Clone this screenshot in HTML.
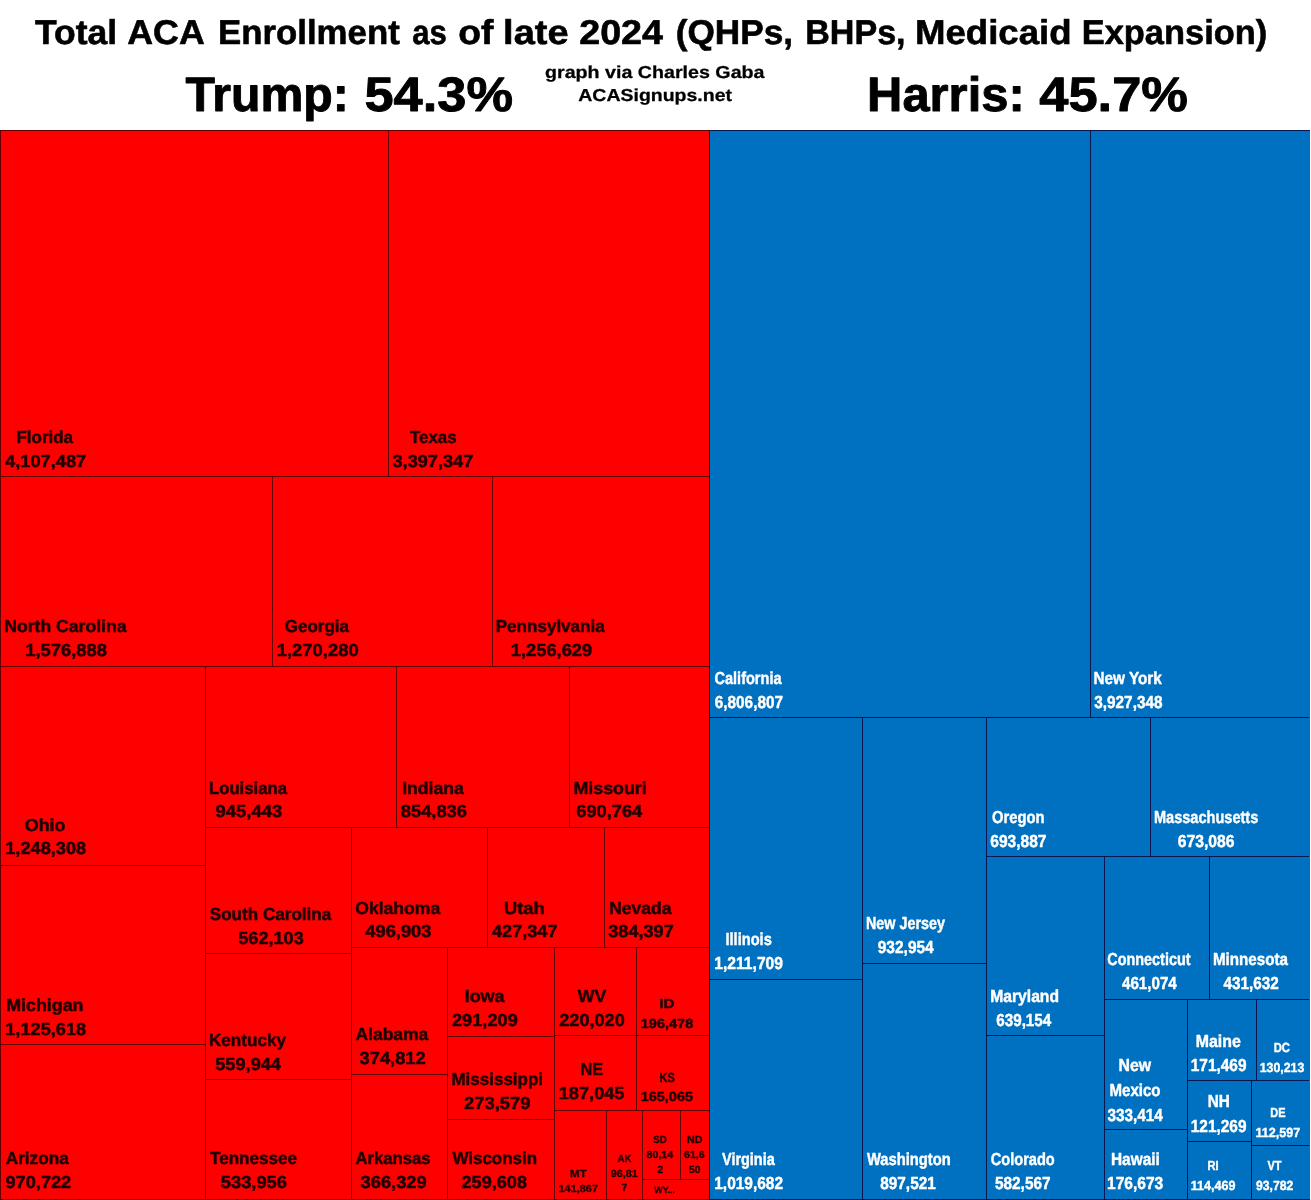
<!DOCTYPE html>
<html lang="en"><head><meta charset="utf-8"><title>Total ACA Enrollment as of late 2024</title>
<style>html,body{margin:0;padding:0;background:#fff}body{width:1311px;height:1200px;overflow:hidden}svg{display:block}text{font-family:"Liberation Sans",Arial,sans-serif;font-weight:bold}</style></head><body>
<svg width="1311" height="1200" viewBox="0 0 1311 1200" text-rendering="geometricPrecision">
<rect x="0" y="0" width="1311" height="1200" fill="#fff"/>
<rect x="0" y="130" width="710" height="1070" fill="#fe0000"/>
<rect x="710" y="130" width="600" height="1070" fill="#0070c0"/>
<g shape-rendering="crispEdges">
<rect x="0" y="130" width="709" height="1" fill="#650000"/>
<rect x="710" y="130" width="600" height="1" fill="#06154f"/>
<rect x="0" y="1199" width="709" height="1" fill="#650000"/>
<rect x="710" y="1199" width="600" height="1" fill="#06154f"/>
<rect x="0" y="476" width="709" height="1" fill="#650000"/>
<rect x="0" y="666" width="709" height="1" fill="#650000"/>
<rect x="0" y="865" width="205" height="1" fill="#650000"/>
<rect x="0" y="1044" width="205" height="1" fill="#650000"/>
<rect x="205" y="827" width="504" height="1" fill="#650000"/>
<rect x="205" y="953" width="146" height="1" fill="#650000"/>
<rect x="205" y="1079" width="146" height="1" fill="#650000"/>
<rect x="351" y="947" width="358" height="1" fill="#650000"/>
<rect x="351" y="1074" width="96" height="1" fill="#650000"/>
<rect x="447" y="1036" width="107" height="1" fill="#650000"/>
<rect x="447" y="1119" width="107" height="1" fill="#650000"/>
<rect x="554" y="1035" width="155" height="1" fill="#650000"/>
<rect x="554" y="1110" width="155" height="1" fill="#650000"/>
<rect x="642" y="1179" width="67" height="1" fill="#650000"/>
<rect x="710" y="717" width="600" height="1" fill="#06154f"/>
<rect x="710" y="979" width="152" height="1" fill="#06154f"/>
<rect x="862" y="963" width="124" height="1" fill="#06154f"/>
<rect x="986" y="856" width="324" height="1" fill="#06154f"/>
<rect x="986" y="1035" width="118" height="1" fill="#06154f"/>
<rect x="1104" y="999" width="206" height="1" fill="#06154f"/>
<rect x="1104" y="1129" width="83" height="1" fill="#06154f"/>
<rect x="1187" y="1080" width="123" height="1" fill="#06154f"/>
<rect x="1187" y="1141" width="64" height="1" fill="#06154f"/>
<rect x="1251" y="1145" width="59" height="1" fill="#06154f"/>
<rect x="0" y="130" width="1" height="1070" fill="#650000"/>
<rect x="388" y="130" width="1" height="346" fill="#650000"/>
<rect x="709" y="130" width="1" height="1070" fill="#45081c"/>
<rect x="272" y="476" width="1" height="190" fill="#650000"/>
<rect x="492" y="476" width="1" height="190" fill="#650000"/>
<rect x="205" y="666" width="1" height="534" fill="#650000"/>
<rect x="396" y="666" width="1" height="161" fill="#650000"/>
<rect x="569" y="666" width="1" height="161" fill="#650000"/>
<rect x="351" y="827" width="1" height="373" fill="#650000"/>
<rect x="487" y="827" width="1" height="120" fill="#650000"/>
<rect x="604" y="827" width="1" height="120" fill="#650000"/>
<rect x="447" y="947" width="1" height="253" fill="#650000"/>
<rect x="554" y="947" width="1" height="253" fill="#650000"/>
<rect x="636" y="947" width="1" height="163" fill="#650000"/>
<rect x="606" y="1110" width="1" height="90" fill="#650000"/>
<rect x="642" y="1110" width="1" height="90" fill="#650000"/>
<rect x="680" y="1110" width="1" height="69" fill="#650000"/>
<rect x="1090" y="130" width="1" height="587" fill="#06154f"/>
<rect x="862" y="717" width="1" height="483" fill="#06154f"/>
<rect x="986" y="717" width="1" height="483" fill="#06154f"/>
<rect x="1150" y="717" width="1" height="139" fill="#06154f"/>
<rect x="1104" y="856" width="1" height="344" fill="#06154f"/>
<rect x="1209" y="856" width="1" height="143" fill="#06154f"/>
<rect x="1187" y="999" width="1" height="201" fill="#06154f"/>
<rect x="1256" y="999" width="1" height="81" fill="#06154f"/>
<rect x="1251" y="1080" width="1" height="120" fill="#06154f"/>
<rect x="1309" y="131" width="1" height="1068" fill="#1d64a8"/>
</g>
<text x="35.00" y="43.5" font-size="34.4" fill="#000" stroke="#000" stroke-width="0.6" stroke-linejoin="round" textLength="82.07" lengthAdjust="spacingAndGlyphs">Total</text>
<text x="127.24" y="43.5" font-size="34.4" fill="#000" stroke="#000" stroke-width="0.6" stroke-linejoin="round" textLength="77.52" lengthAdjust="spacingAndGlyphs">ACA</text>
<text x="217.97" y="43.5" font-size="34.4" fill="#000" stroke="#000" stroke-width="0.6" stroke-linejoin="round" textLength="181.78" lengthAdjust="spacingAndGlyphs">Enrollment</text>
<text x="412.22" y="43.5" font-size="34.4" fill="#000" stroke="#000" stroke-width="0.6" stroke-linejoin="round" textLength="34.59" lengthAdjust="spacingAndGlyphs">as</text>
<text x="458.22" y="43.5" font-size="34.4" fill="#000" stroke="#000" stroke-width="0.6" stroke-linejoin="round" textLength="35.27" lengthAdjust="spacingAndGlyphs">of</text>
<text x="503.13" y="43.5" font-size="34.4" fill="#000" stroke="#000" stroke-width="0.6" stroke-linejoin="round" textLength="65.43" lengthAdjust="spacingAndGlyphs">late</text>
<text x="579.24" y="43.5" font-size="34.4" fill="#000" stroke="#000" stroke-width="0.6" stroke-linejoin="round" textLength="83.76" lengthAdjust="spacingAndGlyphs">2024</text>
<text x="675.71" y="43.5" font-size="34.4" fill="#000" stroke="#000" stroke-width="0.6" stroke-linejoin="round" textLength="117.36" lengthAdjust="spacingAndGlyphs">(QHPs,</text>
<text x="805.18" y="43.5" font-size="34.4" fill="#000" stroke="#000" stroke-width="0.6" stroke-linejoin="round" textLength="100.40" lengthAdjust="spacingAndGlyphs">BHPs,</text>
<text x="914.94" y="43.5" font-size="34.4" fill="#000" stroke="#000" stroke-width="0.6" stroke-linejoin="round" textLength="156.61" lengthAdjust="spacingAndGlyphs">Medicaid</text>
<text x="1081.71" y="43.5" font-size="34.4" fill="#000" stroke="#000" stroke-width="0.6" stroke-linejoin="round" textLength="185.56" lengthAdjust="spacingAndGlyphs">Expansion)</text>
<text x="185.50" y="111.4" font-size="48.4" fill="#000" stroke="#000" stroke-width="0.9" stroke-linejoin="round" textLength="163.35" lengthAdjust="spacingAndGlyphs">Trump:</text>
<text x="364.48" y="111.4" font-size="48.4" fill="#000" stroke="#000" stroke-width="0.9" stroke-linejoin="round" textLength="148.53" lengthAdjust="spacingAndGlyphs">54.3%</text>
<text x="867.12" y="111.4" font-size="48.4" fill="#000" stroke="#000" stroke-width="0.9" stroke-linejoin="round" textLength="157.58" lengthAdjust="spacingAndGlyphs">Harris:</text>
<text x="1039.25" y="111.4" font-size="48.4" fill="#000" stroke="#000" stroke-width="0.9" stroke-linejoin="round" textLength="148.76" lengthAdjust="spacingAndGlyphs">45.7%</text>
<text x="545.00" y="77.9" font-size="17.3" fill="#000" stroke="#000" stroke-width="0.27" stroke-linejoin="round" textLength="219.50" lengthAdjust="spacingAndGlyphs">graph via Charles Gaba</text>
<text x="578.25" y="100.7" font-size="17.3" fill="#000" stroke="#000" stroke-width="0.27" stroke-linejoin="round" textLength="153.75" lengthAdjust="spacingAndGlyphs">ACASignups.net</text>
<text x="16.49" y="443.3" font-size="17.4" fill="#1e0000" stroke="#1e0000" stroke-width="0.45" stroke-linejoin="round" textLength="56.51" lengthAdjust="spacingAndGlyphs">Florida</text>
<text x="5.00" y="466.7" font-size="17.4" fill="#1e0000" stroke="#1e0000" stroke-width="0.45" stroke-linejoin="round" textLength="81.25" lengthAdjust="spacingAndGlyphs">4,107,487</text>
<text x="410.00" y="443.3" font-size="17.4" fill="#1e0000" stroke="#1e0000" stroke-width="0.45" stroke-linejoin="round" textLength="46.51" lengthAdjust="spacingAndGlyphs">Texas</text>
<text x="392.50" y="466.7" font-size="17.4" fill="#1e0000" stroke="#1e0000" stroke-width="0.45" stroke-linejoin="round" textLength="80.76" lengthAdjust="spacingAndGlyphs">3,397,347</text>
<text x="4.24" y="632.3" font-size="17.4" fill="#1e0000" stroke="#1e0000" stroke-width="0.45" stroke-linejoin="round" textLength="122.26" lengthAdjust="spacingAndGlyphs">North Carolina</text>
<text x="25.24" y="655.7" font-size="17.4" fill="#1e0000" stroke="#1e0000" stroke-width="0.45" stroke-linejoin="round" textLength="81.77" lengthAdjust="spacingAndGlyphs">1,576,888</text>
<text x="284.75" y="632.3" font-size="17.4" fill="#1e0000" stroke="#1e0000" stroke-width="0.45" stroke-linejoin="round" textLength="64.25" lengthAdjust="spacingAndGlyphs">Georgia</text>
<text x="276.74" y="655.7" font-size="17.4" fill="#1e0000" stroke="#1e0000" stroke-width="0.45" stroke-linejoin="round" textLength="82.02" lengthAdjust="spacingAndGlyphs">1,270,280</text>
<text x="495.74" y="632.3" font-size="17.4" fill="#1e0000" stroke="#1e0000" stroke-width="0.45" stroke-linejoin="round" textLength="109.00" lengthAdjust="spacingAndGlyphs">Pennsylvania</text>
<text x="510.73" y="655.7" font-size="17.4" fill="#1e0000" stroke="#1e0000" stroke-width="0.45" stroke-linejoin="round" textLength="81.52" lengthAdjust="spacingAndGlyphs">1,256,629</text>
<text x="24.74" y="831.0" font-size="17.4" fill="#1e0000" stroke="#1e0000" stroke-width="0.45" stroke-linejoin="round" textLength="40.78" lengthAdjust="spacingAndGlyphs">Ohio</text>
<text x="5.24" y="854.3" font-size="17.4" fill="#1e0000" stroke="#1e0000" stroke-width="0.45" stroke-linejoin="round" textLength="81.02" lengthAdjust="spacingAndGlyphs">1,248,308</text>
<text x="208.99" y="794.0" font-size="17.4" fill="#1e0000" stroke="#1e0000" stroke-width="0.45" stroke-linejoin="round" textLength="78.01" lengthAdjust="spacingAndGlyphs">Louisiana</text>
<text x="215.49" y="817.3" font-size="17.4" fill="#1e0000" stroke="#1e0000" stroke-width="0.45" stroke-linejoin="round" textLength="66.77" lengthAdjust="spacingAndGlyphs">945,443</text>
<text x="402.24" y="794.0" font-size="17.4" fill="#1e0000" stroke="#1e0000" stroke-width="0.45" stroke-linejoin="round" textLength="61.51" lengthAdjust="spacingAndGlyphs">Indiana</text>
<text x="400.75" y="817.3" font-size="17.4" fill="#1e0000" stroke="#1e0000" stroke-width="0.45" stroke-linejoin="round" textLength="66.26" lengthAdjust="spacingAndGlyphs">854,836</text>
<text x="573.47" y="794.0" font-size="17.4" fill="#1e0000" stroke="#1e0000" stroke-width="0.45" stroke-linejoin="round" textLength="73.30" lengthAdjust="spacingAndGlyphs">Missouri</text>
<text x="576.25" y="817.3" font-size="17.4" fill="#1e0000" stroke="#1e0000" stroke-width="0.45" stroke-linejoin="round" textLength="66.00" lengthAdjust="spacingAndGlyphs">690,764</text>
<text x="209.75" y="920.0" font-size="17.4" fill="#1e0000" stroke="#1e0000" stroke-width="0.45" stroke-linejoin="round" textLength="121.50" lengthAdjust="spacingAndGlyphs">South Carolina</text>
<text x="238.25" y="943.7" font-size="17.4" fill="#1e0000" stroke="#1e0000" stroke-width="0.45" stroke-linejoin="round" textLength="65.51" lengthAdjust="spacingAndGlyphs">562,103</text>
<text x="355.25" y="914.0" font-size="17.4" fill="#1e0000" stroke="#1e0000" stroke-width="0.45" stroke-linejoin="round" textLength="85.00" lengthAdjust="spacingAndGlyphs">Oklahoma</text>
<text x="365.25" y="937.4" font-size="17.4" fill="#1e0000" stroke="#1e0000" stroke-width="0.45" stroke-linejoin="round" textLength="66.25" lengthAdjust="spacingAndGlyphs">496,903</text>
<text x="503.97" y="914.0" font-size="17.4" fill="#1e0000" stroke="#1e0000" stroke-width="0.45" stroke-linejoin="round" textLength="40.57" lengthAdjust="spacingAndGlyphs">Utah</text>
<text x="492.00" y="937.4" font-size="17.4" fill="#1e0000" stroke="#1e0000" stroke-width="0.45" stroke-linejoin="round" textLength="65.51" lengthAdjust="spacingAndGlyphs">427,347</text>
<text x="609.24" y="914.0" font-size="17.4" fill="#1e0000" stroke="#1e0000" stroke-width="0.45" stroke-linejoin="round" textLength="62.25" lengthAdjust="spacingAndGlyphs">Nevada</text>
<text x="608.25" y="937.4" font-size="17.4" fill="#1e0000" stroke="#1e0000" stroke-width="0.45" stroke-linejoin="round" textLength="65.51" lengthAdjust="spacingAndGlyphs">384,397</text>
<text x="6.23" y="1010.7" font-size="17.4" fill="#1e0000" stroke="#1e0000" stroke-width="0.45" stroke-linejoin="round" textLength="77.30" lengthAdjust="spacingAndGlyphs">Michigan</text>
<text x="5.24" y="1035.0" font-size="17.4" fill="#1e0000" stroke="#1e0000" stroke-width="0.45" stroke-linejoin="round" textLength="81.02" lengthAdjust="spacingAndGlyphs">1,125,618</text>
<text x="208.99" y="1046.0" font-size="17.4" fill="#1e0000" stroke="#1e0000" stroke-width="0.45" stroke-linejoin="round" textLength="77.01" lengthAdjust="spacingAndGlyphs">Kentucky</text>
<text x="215.25" y="1070.0" font-size="17.4" fill="#1e0000" stroke="#1e0000" stroke-width="0.45" stroke-linejoin="round" textLength="65.75" lengthAdjust="spacingAndGlyphs">559,944</text>
<text x="355.50" y="1040.3" font-size="17.4" fill="#1e0000" stroke="#1e0000" stroke-width="0.45" stroke-linejoin="round" textLength="72.75" lengthAdjust="spacingAndGlyphs">Alabama</text>
<text x="359.50" y="1064.4" font-size="17.4" fill="#1e0000" stroke="#1e0000" stroke-width="0.45" stroke-linejoin="round" textLength="66.26" lengthAdjust="spacingAndGlyphs">374,812</text>
<text x="464.73" y="1002.4" font-size="17.4" fill="#1e0000" stroke="#1e0000" stroke-width="0.45" stroke-linejoin="round" textLength="39.77" lengthAdjust="spacingAndGlyphs">Iowa</text>
<text x="452.00" y="1025.8" font-size="17.4" fill="#1e0000" stroke="#1e0000" stroke-width="0.45" stroke-linejoin="round" textLength="65.76" lengthAdjust="spacingAndGlyphs">291,209</text>
<text x="577.75" y="1001.7" font-size="17.4" fill="#1e0000" stroke="#1e0000" stroke-width="0.45" stroke-linejoin="round" textLength="28.50" lengthAdjust="spacingAndGlyphs">WV</text>
<text x="559.25" y="1025.5" font-size="17.4" fill="#1e0000" stroke="#1e0000" stroke-width="0.45" stroke-linejoin="round" textLength="65.51" lengthAdjust="spacingAndGlyphs">220,020</text>
<text x="580.44" y="1075.3" font-size="17.4" fill="#1e0000" stroke="#1e0000" stroke-width="0.45" stroke-linejoin="round" textLength="22.58" lengthAdjust="spacingAndGlyphs">NE</text>
<text x="558.74" y="1099.2" font-size="17.4" fill="#1e0000" stroke="#1e0000" stroke-width="0.45" stroke-linejoin="round" textLength="65.77" lengthAdjust="spacingAndGlyphs">187,045</text>
<text x="451.48" y="1085.4" font-size="17.4" fill="#1e0000" stroke="#1e0000" stroke-width="0.45" stroke-linejoin="round" textLength="91.54" lengthAdjust="spacingAndGlyphs">Mississippi</text>
<text x="463.99" y="1108.8" font-size="17.4" fill="#1e0000" stroke="#1e0000" stroke-width="0.45" stroke-linejoin="round" textLength="66.51" lengthAdjust="spacingAndGlyphs">273,579</text>
<text x="5.75" y="1164.4" font-size="17.4" fill="#1e0000" stroke="#1e0000" stroke-width="0.45" stroke-linejoin="round" textLength="63.00" lengthAdjust="spacingAndGlyphs">Arizona</text>
<text x="5.49" y="1188.3" font-size="17.4" fill="#1e0000" stroke="#1e0000" stroke-width="0.45" stroke-linejoin="round" textLength="65.77" lengthAdjust="spacingAndGlyphs">970,722</text>
<text x="210.00" y="1164.4" font-size="17.4" fill="#1e0000" stroke="#1e0000" stroke-width="0.45" stroke-linejoin="round" textLength="87.00" lengthAdjust="spacingAndGlyphs">Tennessee</text>
<text x="220.75" y="1188.3" font-size="17.4" fill="#1e0000" stroke="#1e0000" stroke-width="0.45" stroke-linejoin="round" textLength="66.26" lengthAdjust="spacingAndGlyphs">533,956</text>
<text x="355.50" y="1164.4" font-size="17.4" fill="#1e0000" stroke="#1e0000" stroke-width="0.45" stroke-linejoin="round" textLength="75.01" lengthAdjust="spacingAndGlyphs">Arkansas</text>
<text x="360.50" y="1188.3" font-size="17.4" fill="#1e0000" stroke="#1e0000" stroke-width="0.45" stroke-linejoin="round" textLength="66.26" lengthAdjust="spacingAndGlyphs">366,329</text>
<text x="452.50" y="1164.4" font-size="17.4" fill="#1e0000" stroke="#1e0000" stroke-width="0.45" stroke-linejoin="round" textLength="84.50" lengthAdjust="spacingAndGlyphs">Wisconsin</text>
<text x="461.50" y="1188.3" font-size="17.4" fill="#1e0000" stroke="#1e0000" stroke-width="0.45" stroke-linejoin="round" textLength="65.51" lengthAdjust="spacingAndGlyphs">259,608</text>
<text x="659.19" y="1008.2" font-size="13.2" fill="#1e0000" stroke="#1e0000" stroke-width="0.4" stroke-linejoin="round" textLength="15.10" lengthAdjust="spacingAndGlyphs">ID</text>
<text x="640.74" y="1027.7" font-size="13.2" fill="#1e0000" stroke="#1e0000" stroke-width="0.4" stroke-linejoin="round" textLength="52.52" lengthAdjust="spacingAndGlyphs">196,478</text>
<text x="659.47" y="1081.8" font-size="13.2" fill="#1e0000" stroke="#1e0000" stroke-width="0.4" stroke-linejoin="round" textLength="15.29" lengthAdjust="spacingAndGlyphs">KS</text>
<text x="640.74" y="1101.3" font-size="13.2" fill="#1e0000" stroke="#1e0000" stroke-width="0.4" stroke-linejoin="round" textLength="52.26" lengthAdjust="spacingAndGlyphs">165,065</text>
<text x="569.97" y="1177.1" font-size="10.3" fill="#1e0000" stroke="#1e0000" stroke-width="0.3" stroke-linejoin="round" textLength="16.78" lengthAdjust="spacingAndGlyphs">MT</text>
<text x="558.49" y="1191.6" font-size="10.3" fill="#1e0000" stroke="#1e0000" stroke-width="0.3" stroke-linejoin="round" textLength="39.52" lengthAdjust="spacingAndGlyphs">141,867</text>
<text x="617.50" y="1161.8" font-size="10.3" fill="#1e0000" stroke="#1e0000" stroke-width="0.3" stroke-linejoin="round" textLength="14.01" lengthAdjust="spacingAndGlyphs">AK</text>
<text x="610.75" y="1176.7" font-size="10.3" fill="#1e0000" stroke="#1e0000" stroke-width="0.3" stroke-linejoin="round" textLength="27.01" lengthAdjust="spacingAndGlyphs">96,81</text>
<text x="621.47" y="1191.3" font-size="10.3" fill="#1e0000" stroke="#1e0000" stroke-width="0.3" stroke-linejoin="round" textLength="5.81" lengthAdjust="spacingAndGlyphs">7</text>
<text x="653.24" y="1142.8" font-size="10.3" fill="#1e0000" stroke="#1e0000" stroke-width="0.3" stroke-linejoin="round" textLength="13.52" lengthAdjust="spacingAndGlyphs">SD</text>
<text x="646.50" y="1157.6" font-size="10.3" fill="#1e0000" stroke="#1e0000" stroke-width="0.3" stroke-linejoin="round" textLength="26.75" lengthAdjust="spacingAndGlyphs">80,14</text>
<text x="657.24" y="1172.7" font-size="10.3" fill="#1e0000" stroke="#1e0000" stroke-width="0.3" stroke-linejoin="round" textLength="6.03" lengthAdjust="spacingAndGlyphs">2</text>
<text x="686.97" y="1142.8" font-size="10.3" fill="#1e0000" stroke="#1e0000" stroke-width="0.3" stroke-linejoin="round" textLength="15.56" lengthAdjust="spacingAndGlyphs">ND</text>
<text x="684.00" y="1157.6" font-size="10.3" fill="#1e0000" stroke="#1e0000" stroke-width="0.3" stroke-linejoin="round" textLength="20.76" lengthAdjust="spacingAndGlyphs">61,6</text>
<text x="688.98" y="1172.7" font-size="10.3" fill="#1e0000" stroke="#1e0000" stroke-width="0.3" stroke-linejoin="round" textLength="11.55" lengthAdjust="spacingAndGlyphs">50</text>
<text x="654.24" y="1192.8" font-size="9.0" fill="#1e0000" stroke="#1e0000" stroke-width="0.3" stroke-linejoin="round" textLength="20.77" lengthAdjust="spacingAndGlyphs">WY...</text>
<text x="714.50" y="684.0" font-size="17.4" fill="#ffffff" stroke="#ffffff" stroke-width="0.45" stroke-linejoin="round" textLength="67.00" lengthAdjust="spacingAndGlyphs">California</text>
<text x="714.75" y="707.5" font-size="17.4" fill="#ffffff" stroke="#ffffff" stroke-width="0.45" stroke-linejoin="round" textLength="68.26" lengthAdjust="spacingAndGlyphs">6,806,807</text>
<text x="1093.49" y="683.8" font-size="17.4" fill="#ffffff" stroke="#ffffff" stroke-width="0.45" stroke-linejoin="round" textLength="68.26" lengthAdjust="spacingAndGlyphs">New York</text>
<text x="1094.25" y="707.8" font-size="17.4" fill="#ffffff" stroke="#ffffff" stroke-width="0.45" stroke-linejoin="round" textLength="68.25" lengthAdjust="spacingAndGlyphs">3,927,348</text>
<text x="725.48" y="945.0" font-size="17.4" fill="#ffffff" stroke="#ffffff" stroke-width="0.45" stroke-linejoin="round" textLength="46.29" lengthAdjust="spacingAndGlyphs">Illinois</text>
<text x="714.24" y="968.9" font-size="17.4" fill="#ffffff" stroke="#ffffff" stroke-width="0.45" stroke-linejoin="round" textLength="68.77" lengthAdjust="spacingAndGlyphs">1,211,709</text>
<text x="865.99" y="929.0" font-size="17.4" fill="#ffffff" stroke="#ffffff" stroke-width="0.45" stroke-linejoin="round" textLength="79.01" lengthAdjust="spacingAndGlyphs">New Jersey</text>
<text x="877.75" y="952.7" font-size="17.4" fill="#ffffff" stroke="#ffffff" stroke-width="0.45" stroke-linejoin="round" textLength="56.00" lengthAdjust="spacingAndGlyphs">932,954</text>
<text x="991.99" y="823.3" font-size="17.4" fill="#ffffff" stroke="#ffffff" stroke-width="0.45" stroke-linejoin="round" textLength="52.53" lengthAdjust="spacingAndGlyphs">Oregon</text>
<text x="990.24" y="847.0" font-size="17.4" fill="#ffffff" stroke="#ffffff" stroke-width="0.45" stroke-linejoin="round" textLength="56.26" lengthAdjust="spacingAndGlyphs">693,887</text>
<text x="1153.99" y="823.0" font-size="17.4" fill="#ffffff" stroke="#ffffff" stroke-width="0.45" stroke-linejoin="round" textLength="104.26" lengthAdjust="spacingAndGlyphs">Massachusetts</text>
<text x="1177.74" y="847.0" font-size="17.4" fill="#ffffff" stroke="#ffffff" stroke-width="0.45" stroke-linejoin="round" textLength="56.77" lengthAdjust="spacingAndGlyphs">673,086</text>
<text x="722.00" y="1165.0" font-size="17.4" fill="#ffffff" stroke="#ffffff" stroke-width="0.45" stroke-linejoin="round" textLength="52.75" lengthAdjust="spacingAndGlyphs">Virginia</text>
<text x="714.24" y="1188.8" font-size="17.4" fill="#ffffff" stroke="#ffffff" stroke-width="0.45" stroke-linejoin="round" textLength="68.77" lengthAdjust="spacingAndGlyphs">1,019,682</text>
<text x="867.00" y="1165.0" font-size="17.4" fill="#ffffff" stroke="#ffffff" stroke-width="0.45" stroke-linejoin="round" textLength="83.75" lengthAdjust="spacingAndGlyphs">Washington</text>
<text x="880.25" y="1188.8" font-size="17.4" fill="#ffffff" stroke="#ffffff" stroke-width="0.45" stroke-linejoin="round" textLength="55.50" lengthAdjust="spacingAndGlyphs">897,521</text>
<text x="990.23" y="1001.6" font-size="17.4" fill="#ffffff" stroke="#ffffff" stroke-width="0.45" stroke-linejoin="round" textLength="68.79" lengthAdjust="spacingAndGlyphs">Maryland</text>
<text x="996.25" y="1025.9" font-size="17.4" fill="#ffffff" stroke="#ffffff" stroke-width="0.45" stroke-linejoin="round" textLength="55.00" lengthAdjust="spacingAndGlyphs">639,154</text>
<text x="990.74" y="1164.6" font-size="17.4" fill="#ffffff" stroke="#ffffff" stroke-width="0.45" stroke-linejoin="round" textLength="64.01" lengthAdjust="spacingAndGlyphs">Colorado</text>
<text x="995.00" y="1188.5" font-size="17.4" fill="#ffffff" stroke="#ffffff" stroke-width="0.45" stroke-linejoin="round" textLength="55.51" lengthAdjust="spacingAndGlyphs">582,567</text>
<text x="1107.25" y="964.6" font-size="17.4" fill="#ffffff" stroke="#ffffff" stroke-width="0.45" stroke-linejoin="round" textLength="83.25" lengthAdjust="spacingAndGlyphs">Connecticut</text>
<text x="1122.00" y="988.5" font-size="17.4" fill="#ffffff" stroke="#ffffff" stroke-width="0.45" stroke-linejoin="round" textLength="54.75" lengthAdjust="spacingAndGlyphs">461,074</text>
<text x="1212.99" y="964.6" font-size="17.4" fill="#ffffff" stroke="#ffffff" stroke-width="0.45" stroke-linejoin="round" textLength="75.01" lengthAdjust="spacingAndGlyphs">Minnesota</text>
<text x="1223.50" y="988.5" font-size="17.4" fill="#ffffff" stroke="#ffffff" stroke-width="0.45" stroke-linejoin="round" textLength="55.25" lengthAdjust="spacingAndGlyphs">431,632</text>
<text x="1118.48" y="1071.1" font-size="17.4" fill="#ffffff" stroke="#ffffff" stroke-width="0.45" stroke-linejoin="round" textLength="32.51" lengthAdjust="spacingAndGlyphs">New</text>
<text x="1109.48" y="1095.6" font-size="17.4" fill="#ffffff" stroke="#ffffff" stroke-width="0.45" stroke-linejoin="round" textLength="51.03" lengthAdjust="spacingAndGlyphs">Mexico</text>
<text x="1107.50" y="1120.6" font-size="17.4" fill="#ffffff" stroke="#ffffff" stroke-width="0.45" stroke-linejoin="round" textLength="55.25" lengthAdjust="spacingAndGlyphs">333,414</text>
<text x="1110.97" y="1164.6" font-size="17.4" fill="#ffffff" stroke="#ffffff" stroke-width="0.45" stroke-linejoin="round" textLength="48.81" lengthAdjust="spacingAndGlyphs">Hawaii</text>
<text x="1106.98" y="1188.5" font-size="17.4" fill="#ffffff" stroke="#ffffff" stroke-width="0.45" stroke-linejoin="round" textLength="56.27" lengthAdjust="spacingAndGlyphs">176,673</text>
<text x="1195.72" y="1046.8" font-size="17.4" fill="#ffffff" stroke="#ffffff" stroke-width="0.45" stroke-linejoin="round" textLength="45.04" lengthAdjust="spacingAndGlyphs">Maine</text>
<text x="1190.73" y="1070.8" font-size="17.4" fill="#ffffff" stroke="#ffffff" stroke-width="0.45" stroke-linejoin="round" textLength="55.77" lengthAdjust="spacingAndGlyphs">171,469</text>
<text x="1207.69" y="1107.2" font-size="17.4" fill="#ffffff" stroke="#ffffff" stroke-width="0.45" stroke-linejoin="round" textLength="22.12" lengthAdjust="spacingAndGlyphs">NH</text>
<text x="1190.73" y="1131.6" font-size="17.4" fill="#ffffff" stroke="#ffffff" stroke-width="0.45" stroke-linejoin="round" textLength="55.77" lengthAdjust="spacingAndGlyphs">121,269</text>
<text x="1273.71" y="1052.0" font-size="13.2" fill="#ffffff" stroke="#ffffff" stroke-width="0.4" stroke-linejoin="round" textLength="16.31" lengthAdjust="spacingAndGlyphs">DC</text>
<text x="1259.74" y="1071.7" font-size="13.2" fill="#ffffff" stroke="#ffffff" stroke-width="0.4" stroke-linejoin="round" textLength="44.52" lengthAdjust="spacingAndGlyphs">130,213</text>
<text x="1270.22" y="1116.8" font-size="13.2" fill="#ffffff" stroke="#ffffff" stroke-width="0.4" stroke-linejoin="round" textLength="15.29" lengthAdjust="spacingAndGlyphs">DE</text>
<text x="1255.48" y="1136.8" font-size="13.2" fill="#ffffff" stroke="#ffffff" stroke-width="0.4" stroke-linejoin="round" textLength="44.77" lengthAdjust="spacingAndGlyphs">112,597</text>
<text x="1207.42" y="1170.4" font-size="13.2" fill="#ffffff" stroke="#ffffff" stroke-width="0.4" stroke-linejoin="round" textLength="11.15" lengthAdjust="spacingAndGlyphs">RI</text>
<text x="1190.74" y="1190.2" font-size="13.2" fill="#ffffff" stroke="#ffffff" stroke-width="0.4" stroke-linejoin="round" textLength="44.77" lengthAdjust="spacingAndGlyphs">114,469</text>
<text x="1267.50" y="1170.4" font-size="13.2" fill="#ffffff" stroke="#ffffff" stroke-width="0.4" stroke-linejoin="round" textLength="14.00" lengthAdjust="spacingAndGlyphs">VT</text>
<text x="1256.00" y="1190.2" font-size="13.2" fill="#ffffff" stroke="#ffffff" stroke-width="0.4" stroke-linejoin="round" textLength="37.26" lengthAdjust="spacingAndGlyphs">93,782</text>
</svg></body></html>
